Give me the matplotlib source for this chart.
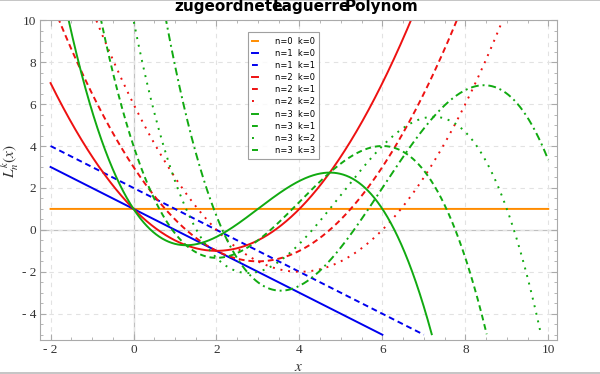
import numpy as np
import matplotlib.pyplot as plt
from matplotlib.ticker import MultipleLocator

plt.rcParams["mathtext.fontset"] = "stix"

# polynomial coefficients (highest power first), one list per curve
l_0_0 = [1]
l_1_0 = [-1, 1]
l_1_1 = [-1, 2]
l_2_0 = [1 / 2, -2, 1]
l_2_1 = [1 / 2, -3, 3]
l_2_2 = [1 / 2, -4, 6]
l_3_0 = [-1 / 6, 3 / 2, -3, 1]
l_3_1 = [-1 / 6, 2, -6, 4]
l_3_2 = [-1 / 6, 5 / 2, -10, 10]
l_3_3 = [-1 / 6, 3, -15, 20]

labels = ["n=0  k=0", "n=1  k=0", "n=1  k=1", "n=2  k=0", "n=2  k=1",
          "n=2  k=2", "n=3  k=0", "n=3  k=1", "n=3  k=2", "n=3  k=3"]
x_ticks = [-2, 0, 2, 4, 6, 8, 10]
y_ticks = [-4, -2, 0, 2, 4, 6, 8, 10]

coefs = [l_0_0, l_1_0, l_1_1, l_2_0, l_2_1, l_2_2, l_3_0, l_3_1, l_3_2, l_3_3]
colors = ["#ff8c00", "#0000ee", "#0000ee", "#ee1111", "#ee1111", "#ee1111",
          "#11aa11", "#11aa11", "#11aa11", "#11aa11"]
styles = ["-", "-", (0, (3, 2)), "-", (0, (3, 2)), (0, (1, 3)),
          "-", (0, (3, 2)), (0, (1, 3)), (0, (4, 2, 1, 2))]

fig = plt.figure(figsize=(6, 3.74), dpi=100)
ax = fig.add_axes([0.067, 0.091, 0.862, 0.855])

xs = np.linspace(-2, 10, 2401)
for c, col, ls, lab in zip(coefs, colors, styles, labels):
    ys = np.polyval(c, xs) * np.ones_like(xs)
    ys[ys < -5.0] = np.nan  # plot range stops at -5
    ax.plot(xs, ys, color=col, ls=ls, lw=1.4, label=lab)

ax.axhline(0, color="#c0c0c0", lw=0.9, zorder=0)
ax.axvline(0, color="#c0c0c0", lw=0.9, zorder=0)
ax.grid(True, which="major", ls=(0, (4, 4)), color="#e2e2e2", lw=0.8)
ax.set_axisbelow(True)

ax.set_xlim(-2.25, 10.22)
ax.set_ylim(-5.25, 10)
ax.set_xticks(x_ticks)
ax.set_xticklabels([str(t).replace("-", "- ") for t in x_ticks])
ax.set_yticks(y_ticks)
ax.set_yticklabels([str(t).replace("-", "- ") for t in y_ticks])
ax.xaxis.set_minor_locator(MultipleLocator(0.5))
ax.yaxis.set_minor_locator(MultipleLocator(0.5))
ax.tick_params(which="both", direction="in", top=True, right=True,
               labelsize=9.5, colors="#aaaaaa", labelcolor="#333333", pad=3)
ax.tick_params(which="major", length=4)
ax.tick_params(which="minor", length=2)
for lbl in ax.get_xticklabels() + ax.get_yticklabels():
    lbl.set_family("Liberation Serif")
for s in ax.spines.values():
    s.set_color("#aaaaaa")
    s.set_linewidth(0.8)

ax.set_xlabel("$x$", fontsize=11, labelpad=2, color="#333333")
ax.set_ylabel("$L_n^k(x)$", fontsize=11, labelpad=2, color="#333333")
ax.yaxis.set_label_coords(-0.037, 0.56)

# overlapping title words
for word, xp in [("zugeordnete", 229), ("Laguerre", 311), ("Polynom", 382)]:
    fig.text(xp / 600, 1 - 7 / 374, word, ha="center", va="center",
             fontsize=11, fontweight="bold")

# thin gray rules along top and bottom of the figure
fig.add_artist(plt.Line2D([0, 1], [0.999, 0.999], color="#bbbbbb", lw=1.2))
fig.add_artist(plt.Line2D([0, 1], [0.004, 0.004], color="#bbbbbb", lw=1.2))

leg = ax.legend(loc="upper left", bbox_to_anchor=(0.394, 0.975),
                fontsize=6.0, handlelength=0.7, handletextpad=2.0,
                labelspacing=0.38, borderpad=0.5, frameon=True,
                fancybox=False, edgecolor="#888888")
leg.get_frame().set_linewidth(0.8)

fig.savefig("out.png", dpi=100)
